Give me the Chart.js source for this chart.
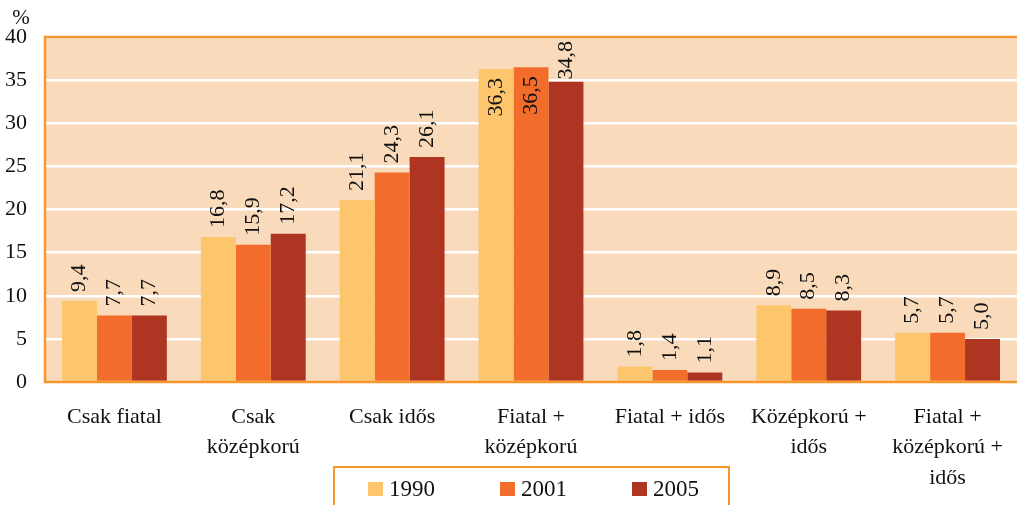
<!DOCTYPE html>
<html>
<head>
<meta charset="utf-8">
<script src="https://cdn.jsdelivr.net/npm/chart.js@4"></script>
<style>
html,body{margin:0;padding:0;background:#fff;}
#wrap{width:1017px;height:505px;position:relative;}
</style>
</head>
<body>
<div id="wrap"><canvas id="c" width="1017" height="505"></canvas></div>
<script>
const categories = [
  ["Csak fiatal"],
  ["Csak", "középkorú"],
  ["Csak idős"],
  ["Fiatal +", "középkorú"],
  ["Fiatal + idős"],
  ["Középkorú +", "idős"],
  ["Fiatal +", "középkorú +", "idős"]
];
const seriesNames = ["1990", "2001", "2005"];
const values1990 = [9.4, 16.8, 21.1, 36.3, 1.8, 8.9, 5.7];
const values2001 = [7.7, 15.9, 24.3, 36.5, 1.4, 8.5, 5.7];
const values2005 = [7.7, 17.2, 26.1, 34.8, 1.1, 8.3, 5.0];
const yTicks = [0, 5, 10, 15, 20, 25, 30, 35, 40];
const yUnit = "%";

const colors = ["#FDC66C", "#F26D2B", "#AE3522"];
const FONT = "'Liberation Serif', 'Times New Roman', serif";

const bgPlugin = {
  id: 'bg',
  beforeDraw(chart) {
    const {ctx, chartArea: a} = chart;
    ctx.save();
    ctx.fillStyle = '#F9DBBB';
    ctx.fillRect(a.left, a.top, a.right - a.left, a.bottom - a.top);
    ctx.restore();
  },
  afterDatasetsDraw(chart) {
    const {ctx, chartArea: a} = chart;
    ctx.save();
    ctx.strokeStyle = '#F7962F';
    ctx.lineWidth = 2.5;
    ctx.beginPath();
    ctx.moveTo(a.right + 2, a.top);
    ctx.lineTo(a.left, a.top);
    ctx.lineTo(a.left, a.bottom);
    ctx.lineTo(a.right + 2, a.bottom);
    ctx.stroke();
    ctx.restore();
  },
  afterDraw(chart) {
    const {ctx, chartArea: a} = chart;
    ctx.save();
    // data labels
    ctx.font = "22px " + FONT;
    ctx.fillStyle = '#111';
    chart.data.datasets.forEach((ds, di) => {
      const meta = chart.getDatasetMeta(di);
      meta.data.forEach((bar, i) => {
        const txt = ds.data[i].toFixed(1).replace('.', ',');
        const w = ctx.measureText(txt).width;
        let start = bar.y - 9;
        let inside = false;
        if (start - w < a.top + 4) {
          start = a.top + 4 + w;
          if (start > bar.y + 1) inside = true;
        }
        ctx.save();
        ctx.textBaseline = 'middle';
        if (inside) {
          ctx.translate(bar.x, bar.y + 9);
          ctx.rotate(-Math.PI / 2);
          ctx.textAlign = 'right';
        } else {
          ctx.translate(bar.x, start);
          ctx.rotate(-Math.PI / 2);
          ctx.textAlign = 'left';
        }
        ctx.fillText(txt, 0, 0);
        ctx.restore();
      });
    });
    // unit
    ctx.font = "21px " + FONT;
    ctx.textAlign = 'center';
    ctx.textBaseline = 'middle';
    ctx.fillText(yUnit, 21, 18);
    // legend
    ctx.strokeStyle = '#F7962F';
    ctx.lineWidth = 2;
    ctx.strokeRect(334, 467, 395, 60);
    ctx.font = "23px " + FONT;
    ctx.textAlign = 'left';
    chart.data.datasets.forEach((ds, di) => {
      const x0 = 368 + di * 132;
      ctx.fillStyle = ds.backgroundColor;
      ctx.fillRect(x0, 482, 15, 14);
      ctx.fillStyle = '#111';
      ctx.fillText(ds.label, x0 + 21, 490);
    });
    ctx.restore();
  }
};

new Chart(document.getElementById('c'), {
  type: 'bar',
  data: {
    labels: categories,
    datasets: [
      {label: seriesNames[0], data: values1990, backgroundColor: colors[0]},
      {label: seriesNames[1], data: values2001, backgroundColor: colors[1]},
      {label: seriesNames[2], data: values2005, backgroundColor: colors[2]}
    ]
  },
  options: {
    responsive: false,
    animation: false,
    layout: {padding: {top: 37, right: 0, left: 0, bottom: 0}},
    datasets: {bar: {barPercentage: 1.0, categoryPercentage: 0.755, borderWidth: 0}},
    plugins: {legend: {display: false}, tooltip: {enabled: false}},
    scales: {
      x: {
        grid: {display: false},
        border: {display: false},
        ticks: {color: '#111', font: {family: FONT, size: 22, lineHeight: 1.38}, padding: 12, maxRotation: 0, autoSkip: false},
        afterFit(s) { s.height = 123; }
      },
      y: {
        min: 0, max: 40,
        afterBuildTicks(s) { s.ticks = yTicks.map(v => ({value: v})); },
        grid: {color: '#FFFFFF', lineWidth: 2.5, drawTicks: false},
        border: {display: false},
        ticks: {color: '#111', font: {family: FONT, size: 22}, padding: 18},
        afterFit(s) { s.width = 45; }
      }
    }
  },
  plugins: [bgPlugin]
});
</script>
</body>
</html>
